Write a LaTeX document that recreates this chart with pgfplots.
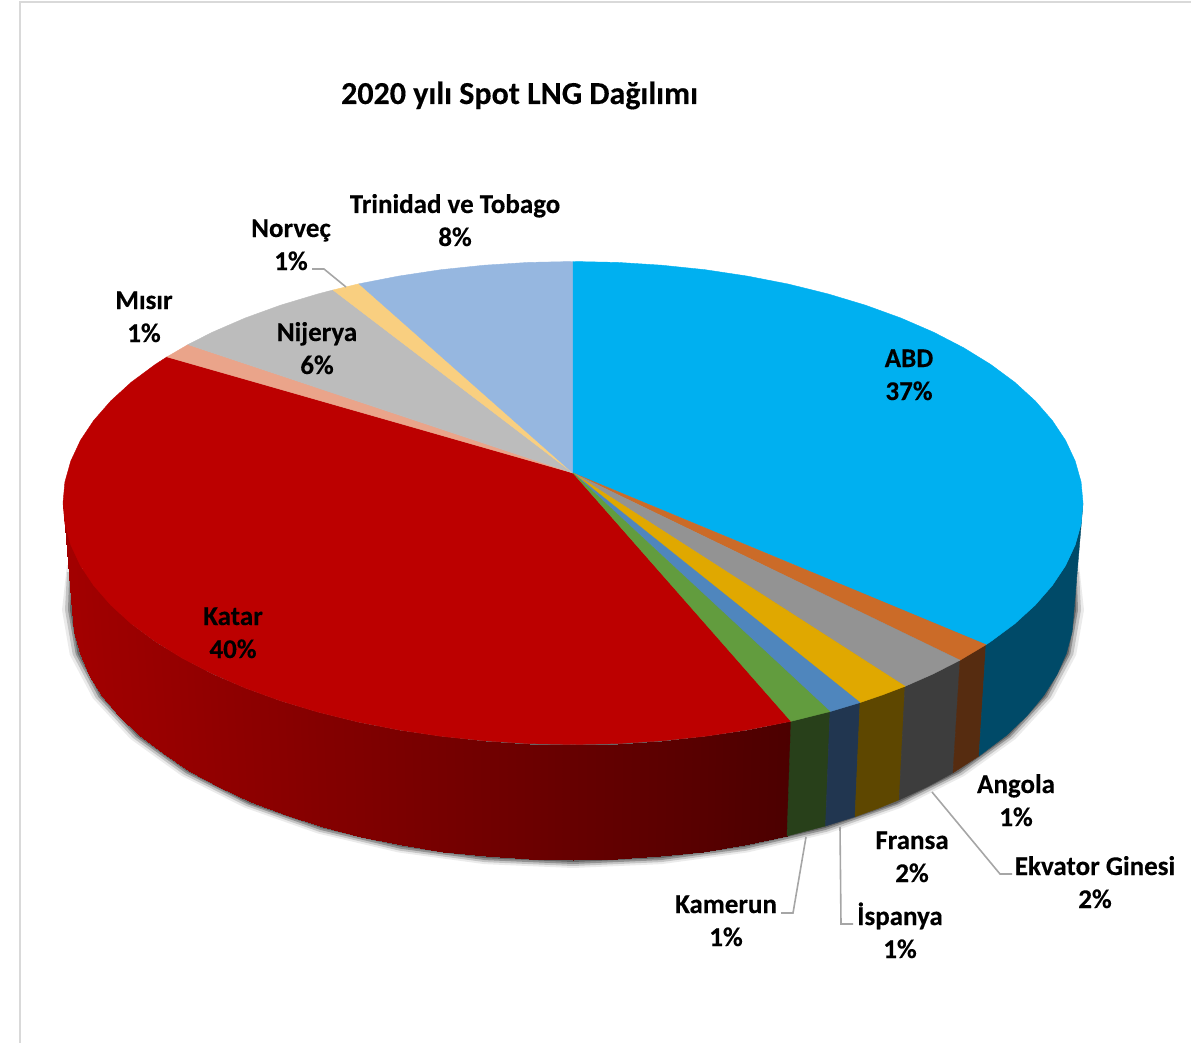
\documentclass[border=0pt]{standalone}
\usepackage{fontspec}
\setmainfont{Carlito}[BoldFeatures={FakeBold=0.3}]
\usepackage{pgfplots}
\pgfplotsset{compat=1.18}

\definecolor{abdT}{HTML}{00B0F0}
\definecolor{abdS}{HTML}{004A68}
\definecolor{angT}{HTML}{CB6B28}
\definecolor{angS}{HTML}{562C10}
\definecolor{ekvT}{HTML}{939393}
\definecolor{ekvS}{HTML}{3D3D3D}
\definecolor{fraT}{HTML}{E0A800}
\definecolor{fraS}{HTML}{5E4700}
\definecolor{ispT}{HTML}{4F86BD}
\definecolor{ispS}{HTML}{213650}
\definecolor{kamT}{HTML}{629C3E}
\definecolor{kamS}{HTML}{28401A}
\definecolor{katT}{HTML}{BC0000}
\definecolor{misT}{HTML}{EAA48A}
\definecolor{nijT}{HTML}{BCBCBC}
\definecolor{norT}{HTML}{F9CF80}
\definecolor{triT}{HTML}{96B7E0}
\definecolor{leader}{HTML}{A6A6A6}

% filled slice / side piece
\newcommand{\piece}[2]{\addplot[fill=#1,draw=#1,line width=0.4pt] coordinates {#2} --cycle;}
\newcommand{\shadowlayer}[2]{\addplot[fill=black,fill opacity=#1,draw=none] coordinates {#2} --cycle;}
% data label: x, baseline 1, baseline 2, name, percent
\newcommand{\lab}[5]{%
  \node[anchor=base,font=\fontsize{27}{27}\selectfont\bfseries,inner sep=0pt] at (axis cs:#1,#2) {#4};
  \node[anchor=base,font=\fontsize{27}{27}\selectfont\bfseries,inner sep=0pt] at (axis cs:#1,#3) {#5};}

\begin{document}
\begin{tikzpicture}
\useasboundingbox (0,0) rectangle (1191pt,1043pt);
\begin{axis}[
    at={(0,0)}, anchor=south west,
    scale only axis,
    width=1191pt, height=1043pt,
    xmin=0, xmax=1191,
    ymin=0, ymax=1043,
    y dir=reverse,
    hide axis,
    clip=false,
    colormap={katar}{rgb255(0cm)=(70,0,0); rgb255(1cm)=(166,0,0)},
    point meta min=70, point meta max=166,
]

% chart frame
\addplot[draw=black!15,line width=2pt] coordinates {(19.5,1043) (19.5,2) (1191,2)};

% soft shadow under the pie
\shadowlayer{0.08}{(1079,565) (1084,610) (1076.2,654.8) (1053.2,698.2) (1015.5,739) (964.4,775.8) (901.5,807.6) (828.5,833.4) (747.8,852.4) (661.7,864.1) (573,868) (484.3,864.1) (398.2,852.4) (317.5,833.4) (244.5,807.6) (181.6,775.8) (130.5,739) (92.8,698.2) (69.8,654.8) (62,610) (67,565)}
\shadowlayer{0.16}{(1079,572) (1081,610) (1073.3,654.4) (1050.4,697.6) (1012.9,738) (962.1,774.6) (899.5,806.1) (827,831.7) (746.7,850.6) (661.2,862.1) (573,866) (484.8,862.1) (399.3,850.6) (319,831.7) (246.5,806.1) (183.9,774.6) (133.1,738) (95.6,697.6) (72.7,654.4) (65,610) (67,572)}
\shadowlayer{0.26}{(1077,580) (1078,610) (1070.3,654.1) (1047.6,696.9) (1010.3,737) (959.8,773.3) (897.6,804.6) (825.5,830) (745.7,848.7) (660.7,860.1) (573,864) (485.3,860.1) (400.3,848.7) (320.5,830) (248.4,804.6) (186.2,773.3) (135.7,737) (98.4,696.9) (75.7,654.1) (68,610) (69,580)}
\shadowlayer{0.30}{(1076,590) (1076,610) (1068.4,653.7) (1045.7,696.2) (1008.6,736) (958.3,772) (896.3,803.6) (824.5,828.2) (745,846.8) (660.3,858.2) (573,862) (485.7,858.2) (401,846.8) (321.5,828.2) (249.7,803.6) (187.7,772) (137.4,736) (100.3,696.2) (77.6,653.7) (70,610) (71,590)}

% side wall of Katar: two rows of points, colour by last column
\addplot[surf,shader=interp,mesh/rows=2,point meta=explicit] table[meta=c] {
x y c
63 503 162
65 524.1 162
70.8 544.9 162
80.4 565.5 161
93.8 585.6 159
110.8 605.1 157
131.3 623.8 155
155.2 641.5 152
182.3 658.2 149
212.4 673.8 145
245.2 688 141
280.5 700.8 137
318 712.1 132
357.5 721.9 128
398.6 729.9 123
441 736.3 118
484.5 740.8 113
528.5 743.6 108
573 744.5 102
617.5 743.6 97
661.5 740.8 92
705 736.3 87
747.4 729.9 81
791 721.3 76
72 610 162
73.9 631.8 162
79.6 653.4 162
89.1 674.7 161
102.2 695.5 159
119 715.7 157
139.1 735 155
162.6 753.4 152
189.2 770.7 149
218.7 786.8 145
251 801.5 141
285.6 814.8 137
322.5 826.5 132
361.3 836.6 128
401.7 844.9 123
443.3 851.5 118
486 856.2 113
529.3 859 108
573 860 102
616.7 859 97
660 856.2 92
702.7 851.5 87
744.3 844.9 81
787 836 76
};

% side wall, the other slices
\piece{kamS}{(791,721.3) (830,711.6) (825.5,826) (787,836)}
\piece{ispS}{(830,711.6) (860,702.6) (855,816.7) (825.5,826)}
\piece{fraS}{(860,702.6) (883,694.7) (905,686.3) (899.2,799.8) (877.6,808.5) (855,816.7)}
\piece{ekvS}{(905,686.3) (933,674) (960,660.2) (953,772.8) (926.7,787) (899.2,799.8)}
\piece{angS}{(960,660.2) (986,644.7) (979,756) (953,772.8)}
\piece{abdS}{(986,644.7) (990.8,641.5) (1014.7,623.8) (1035.2,605.1) (1052.2,585.6) (1065.6,565.5) (1075.2,544.9) (1081.1,524) (1083,503) (1074,610) (1072.1,631.8) (1066.4,653.4) (1056.9,674.7) (1043.8,695.5) (1027,715.7) (1006.9,735) (979,756)}

% top face, shares: ABD 37, Angola 1, Ekvator Ginesi 2, Fransa 2, Ispanya 1, Kamerun 1, Katar 40, Misir 1, Nijerya 6, Norvec 1, Trinidad ve Tobago 8
\piece{katT}{(573,473) (791,721.3) (747.4,729.9) (705,736.3) (661.6,740.8) (617.4,743.6) (573,744.5) (528.6,743.6) (484.4,740.8) (441,736.3) (398.6,729.9) (357.5,721.9) (318,712.1) (280.5,700.8) (245.2,688) (212.4,673.8) (182.3,658.2) (155.2,641.5) (131.3,623.8) (110.8,605.1) (93.8,585.6) (80.4,565.5) (70.8,544.9) (64.9,524) (63,503) (64.9,482) (70.8,461.1) (80.4,440.5) (93.8,420.4) (110.8,400.9) (131.3,382.2) (155.2,364.5) (167,356.9)}
\piece{misT}{(573,473) (167,356.9) (188,344.6)}
\piece{nijT}{(573,473) (188,344.6) (212.4,332.2) (245.2,318) (280.5,305.2) (318,293.9) (333,290)}
\piece{norT}{(573,473) (333,290) (359,283.8)}
\piece{triT}{(573,473) (359,283.8) (398.6,276.1) (441,269.7) (484.4,265.2) (528.6,262.4) (573,261.5)}
\piece{abdT}{(573,473) (573,261.5) (617.4,262.4) (661.6,265.2) (705,269.7) (747.4,276.1) (788.5,284.1) (828,293.9) (865.5,305.2) (900.8,318) (933.6,332.2) (963.7,347.8) (990.8,364.5) (1014.7,382.2) (1035.2,400.9) (1052.2,420.4) (1065.6,440.5) (1075.2,461.1) (1081.1,482) (1083,503) (1081.1,524) (1075.2,544.9) (1065.6,565.5) (1052.2,585.6) (1035.2,605.1) (1014.7,623.8) (990.8,641.5) (986,644.7)}
\piece{angT}{(573,473) (986,644.7) (960,660.2)}
\piece{ekvT}{(573,473) (960,660.2) (933,674) (905,686.3)}
\piece{fraT}{(573,473) (905,686.3) (883,694.7) (860,702.6)}
\piece{ispT}{(573,473) (860,702.6) (830,711.6)}
\piece{kamT}{(573,473) (830,711.6) (791,721.3)}

% leader lines
\addplot[draw=leader,line width=1.6pt] coordinates {(312,269) (324,269) (346,287)};
\addplot[draw=leader,line width=1.6pt] coordinates {(932,792) (1000,874) (1012,874)};
\addplot[draw=leader,line width=1.6pt] coordinates {(840,827) (841,924) (853,924)};
\addplot[draw=leader,line width=1.6pt] coordinates {(806,837) (793,913) (781,913)};

% title and labels
\node[anchor=base,font=\fontsize{32}{32}\selectfont\bfseries,inner sep=0pt] at (axis cs:519.5,104) {2020 yılı Spot LNG Dağılımı};
\lab{909}{367}{400}{ABD}{37\%}
\lab{233}{625}{658}{Katar}{40\%}
\lab{455}{213}{246}{Trinidad ve Tobago}{8\%}
\lab{291}{237}{270}{Norveç}{1\%}
\lab{144}{309}{342}{Mısır}{1\%}
\lab{317}{341}{374}{Nijerya}{6\%}
\lab{1016}{793}{826}{Angola}{1\%}
\lab{1095}{875}{908}{Ekvator Ginesi}{2\%}
\lab{912}{849}{882}{Fransa}{2\%}
\lab{900}{925}{958}{İspanya}{1\%}
\lab{726}{913}{946}{Kamerun}{1\%}

\end{axis}
\end{tikzpicture}
\end{document}
